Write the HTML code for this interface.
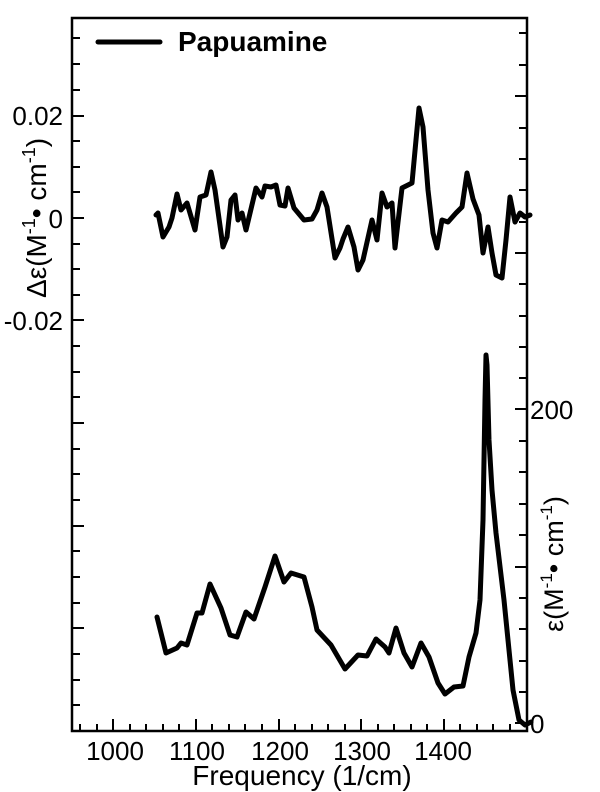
<!DOCTYPE html>
<html><head><meta charset="utf-8"><style>
html,body{margin:0;padding:0;background:#fff}
svg{display:block}
text{font-family:"Liberation Sans",Arial,sans-serif;fill:#000}
</style></head><body>
<svg width="600" height="792" viewBox="0 0 600 792" xmlns="http://www.w3.org/2000/svg">
<rect x="72" y="18" width="455" height="713" fill="none" stroke="#000" stroke-width="2.5"/>
<g stroke="#000" stroke-width="2">
<path d="M72 38h8M72 64h8M72 90h8M72 116h12M72 141h8M72 167h8M72 192h8M72 218h12M72 244h8M72 269h8M72 295h8M72 320h12M72 346h8M72 372h8M72 397h8M72 423h12M72 449h8M72 474h8M72 500h8M72 526h12M72 551h8M72 577h8M72 603h8M72 628h12M72 654h8M72 680h8M72 705h8"/>
<path d="M527 33h-8M527 65h-8M527 96h-12M527 128h-8M527 159h-8M527 190h-8M527 222h-8M527 253h-12M527 284h-8M527 316h-8M527 347h-8M527 378h-8M527 409h-12M527 441h-8M527 472h-8M527 504h-8M527 535h-8M527 567h-12M527 598h-8M527 629h-8M527 661h-8M527 692h-8M527 723h-12"/>
<path d="M80 731v-7M97 731v-7M113 731v-12M130 731v-7M146 731v-7M163 731v-7M179 731v-7M196 731v-12M212 731v-7M229 731v-7M245 731v-7M262 731v-7M279 731v-12M295 731v-7M312 731v-7M328 731v-7M345 731v-7M361 731v-12M378 731v-7M394 731v-7M411 731v-7M427 731v-7M444 731v-12M460 731v-7M477 731v-7M493 731v-7M510 731v-7"/>
</g>
<g font-size="26">
<text x="63" y="125" text-anchor="end">0.02</text>
<text x="63" y="228" text-anchor="end">0</text>
<text x="63" y="330" text-anchor="end">-0.02</text>
<text x="530" y="419">200</text>
<text x="530" y="733">0</text>
<g text-anchor="middle">
<text x="115" y="760">1000</text><text x="197" y="760">1100</text><text x="280" y="760">1200</text><text x="362" y="760">1300</text><text x="443" y="760">1400</text>
<text x="302" y="785" font-size="28">Frequency (1/cm)</text>
</g>
<text transform="translate(46,218) rotate(-90)" text-anchor="middle" font-size="28">Δε(M<tspan font-size="18" dy="-11">-1</tspan><tspan dy="11">• cm</tspan><tspan font-size="18" dy="-11">-1</tspan><tspan dy="11">)</tspan></text>
<text transform="translate(563,564) rotate(-90)" text-anchor="middle" font-size="27">ε(M<tspan font-size="17" dy="-11">-1</tspan><tspan dy="11">• cm</tspan><tspan font-size="17" dy="-11">-1</tspan><tspan dy="11">)</tspan></text>
</g>
<line x1="98" y1="42" x2="160" y2="42" stroke="#000" stroke-width="5" stroke-linecap="round"/>
<text x="178" y="51" font-size="28" font-weight="bold">Papuamine</text>
<g fill="none" stroke="#000" stroke-width="5" stroke-linejoin="round" stroke-linecap="round">
<polyline points="156,215 158,213 163,237 169,227 172,218 177,194 181,210 187,203 195,230 200,197 206,195 211,172 215,190 223,247 227,237 231,200 235,195 238,220 242,213 246,230 256,188 262,197 265,186 271,187 276,185 280,205 285,206 288,188 294,208 304,220 312,219 317,210 322,193 327,207 335,258 340,248 343,239 348,227 354,247 358,270 363,260 372,220 377,240 382,193 387,207 392,203 395,248 402,188 412,183 416,140 419,108 423,127 428,190 433,233 437,248 442,220 448,222 456,213 462,207 467,173 473,199 479,215 483,253 488,227 492,253 496,275 502,278 506,240 510,197 515,222 520,213 525,217 530,215"/>
<polyline points="157,617 166,653 177,648 181,643 187,645 197,613 202,613 210,584 221,608 230,635 237,637 246,612 254,619 265,587 275,556 284,582 291,573 304,577 312,607 317,630 331,645 345,669 358,655 367,656 376,639 385,647 389,653 396,628 404,653 412,667 421,643 429,657 438,683 445,694 454,687 463,686 469,657 476,633 480,600 483,520 485,400 486,355 487,365 489,440 492,490 496,533 504,600 510,660 513,690 519,720 525,725 531,722"/>
</g>
</svg>
</body></html>
